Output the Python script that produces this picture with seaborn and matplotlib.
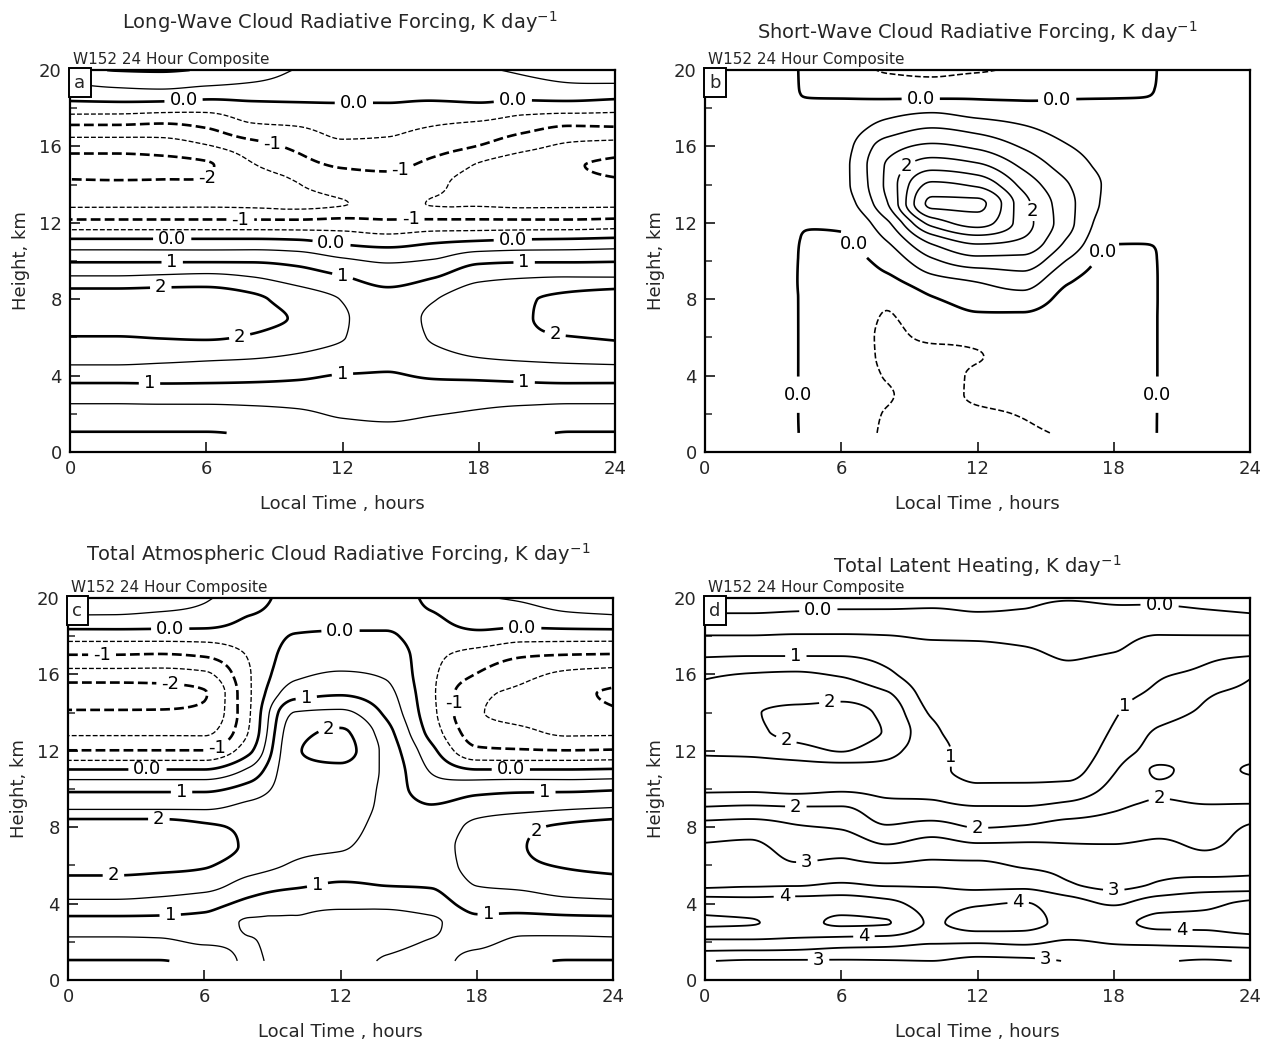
import numpy as np
import matplotlib
matplotlib.use("Agg")
import matplotlib.pyplot as plt
import seaborn as sns

# ---------------- data ----------------
local_time = [0, 2, 4, 6, 8, 10, 12, 14, 16, 18, 20, 22, 24]          # hours
height_km = [1, 2, 3, 4, 5, 6, 7, 8, 9, 10, 11, 12, 13, 14, 15, 16, 17, 18, 19, 20]

# each inner list: one local-time column, values at height_km (K/day)
lw_forcing = [
    [-0.02, 0.3, 0.7, 1.2, 1.7, 1.98, 2.35, 2.3, 1.65, 0.95, 0.15, -0.85, -1.6, -1.9, -2.2, -1.8, -1.1, -0.25, 0.35, 0.8],
    [-0.02, 0.3, 0.7, 1.2, 1.7, 1.98, 2.35, 2.3, 1.65, 0.95, 0.15, -0.85, -1.6, -1.92, -2.2, -1.8, -1.1, -0.25, 0.45, 1.02],
    [-0.02, 0.3, 0.72, 1.2, 1.65, 2.02, 2.35, 2.32, 1.7, 0.95, 0.15, -0.85, -1.6, -1.92, -2.15, -1.75, -1.15, -0.3, 0.5, 1.05],
    [-0.02, 0.3, 0.72, 1.18, 1.6, 2.05, 2.35, 2.3, 1.75, 0.95, 0.15, -0.85, -1.6, -1.95, -2.05, -1.55, -0.98, -0.35, 0.4, 0.95],
    [0.05, 0.35, 0.72, 1.15, 1.55, 1.95, 2.15, 2.1, 1.6, 0.95, 0.15, -0.85, -1.6, -1.8, -1.55, -1.2, -0.6, -0.2, 0.35, 0.75],
    [0.2, 0.42, 0.75, 1.08, 1.45, 1.75, 1.95, 1.8, 1.35, 0.85, 0.1, -0.85, -1.6, -1.52, -1.2, -0.9, -0.52, -0.15, 0.3, 0.48],
    [0.35, 0.55, 0.8, 0.98, 1.3, 1.52, 1.55, 1.48, 1.1, 0.6, -0.1, -0.8, -1.52, -1.3, -0.95, -0.6, -0.35, -0.1, 0.25, 0.35],
    [0.4, 0.58, 0.82, 0.97, 1.12, 1.25, 1.3, 1.2, 0.85, 0.45, -0.2, -0.9, -1.35, -1.2, -0.9, -0.6, -0.4, -0.1, 0.22, 0.3],
    [0.35, 0.52, 0.78, 1.05, 1.35, 1.55, 1.6, 1.47, 1.05, 0.55, -0.05, -0.85, -1.52, -1.4, -1.15, -0.8, -0.52, -0.2, 0.25, 0.3],
    [0.3, 0.45, 0.72, 1.1, 1.52, 1.8, 1.95, 1.85, 1.45, 0.9, 0.05, -0.85, -1.55, -1.7, -1.55, -1.02, -0.65, -0.15, 0.3, 0.45],
    [0.1, 0.35, 0.72, 1.15, 1.6, 1.9, 1.97, 1.95, 1.55, 0.95, 0.12, -0.85, -1.6, -1.8, -1.8, -1.35, -0.85, -0.3, 0.35, 0.55],
    [-0.02, 0.3, 0.7, 1.2, 1.65, 1.98, 2.25, 2.15, 1.6, 0.95, 0.15, -0.85, -1.6, -1.85, -1.95, -1.6, -1.05, -0.3, 0.4, 0.65],
    [-0.02, 0.3, 0.7, 1.2, 1.7, 2.05, 2.3, 2.3, 1.6, 0.97, 0.2, -0.8, -1.6, -1.9, -2.1, -1.7, -1.02, -0.35, 0.35, 0.8],
]

sw_forcing = [
    [0.0, 0.0, 0.0, 0.0, 0.0, 0.0, 0.0, 0.0, 0.0, 0.0, 0.0, 0.0, 0.0, 0.0, 0.0, 0.0, 0.0, 0.0, 0.0, 0.0],
    [0.0, 0.0, 0.0, 0.0, 0.0, 0.0, 0.0, 0.0, 0.0, 0.0, 0.0, 0.0, 0.0, 0.0, 0.0, 0.0, 0.0, 0.0, 0.0, 0.0],
    [0.0, 0.0, 0.0, 0.0, 0.0, 0.0, 0.0, 0.0, 0.0, 0.0, 0.0, 0.0, 0.0, 0.0, 0.0, 0.0, 0.0, 0.0, 0.0, 0.0],
    [-0.15, -0.2, -0.2, -0.2, -0.2, -0.2, -0.2, -0.2, -0.2, -0.15, -0.05, 0.05, 0.25, 0.35, 0.35, 0.3, 0.2, 0.1, -0.1, -0.2],
    [-0.55, -0.52, -0.47, -0.52, -0.55, -0.55, -0.52, -0.45, -0.1, 0.15, 0.48, 0.9, 1.45, 1.6, 1.55, 1.25, 0.7, 0.25, -0.25, -0.55],
    [-0.6, -0.6, -0.6, -0.6, -0.58, -0.45, -0.3, -0.05, 0.35, 0.9, 1.6, 2.7, 3.6, 3.1, 2.3, 1.6, 0.98, 0.35, -0.3, -0.6],
    [-0.6, -0.55, -0.45, -0.45, -0.52, -0.4, -0.1, 0.2, 0.55, 1.3, 2.1, 3.2, 3.6, 2.9, 2.1, 1.4, 0.8, 0.2, -0.2, -0.55],
    [-0.55, -0.48, -0.35, -0.3, -0.3, -0.25, -0.1, 0.3, 0.75, 1.3, 1.9, 2.25, 2.2, 1.85, 1.4, 0.95, 0.55, 0.15, -0.2, -0.4],
    [-0.45, -0.35, -0.3, -0.25, -0.25, -0.25, -0.25, -0.15, 0.05, 0.45, 0.9, 1.15, 1.15, 1.02, 0.75, 0.52, 0.3, 0.1, -0.1, -0.2],
    [-0.2, -0.2, -0.2, -0.2, -0.2, -0.2, -0.2, -0.2, -0.2, -0.15, 0.02, 0.15, 0.3, 0.35, 0.3, 0.25, 0.15, 0.05, -0.05, -0.15],
    [0.0, 0.0, 0.0, 0.0, 0.0, 0.0, 0.0, 0.0, 0.0, 0.0, 0.0, 0.0, 0.0, 0.0, 0.0, 0.0, 0.0, 0.0, 0.0, 0.0],
    [0.0, 0.0, 0.0, 0.0, 0.0, 0.0, 0.0, 0.0, 0.0, 0.0, 0.0, 0.0, 0.0, 0.0, 0.0, 0.0, 0.0, 0.0, 0.0, 0.0],
    [0.0, 0.0, 0.0, 0.0, 0.0, 0.0, 0.0, 0.0, 0.0, 0.0, 0.0, 0.0, 0.0, 0.0, 0.0, 0.0, 0.0, 0.0, 0.0, 0.0],
]

total_forcing = [
    [-0.02, 0.4, 0.8, 1.4, 1.8, 2.2, 2.45, 2.3, 1.45, 0.9, 0.02, -0.98, -1.6, -1.95, -2.25, -1.7, -1.02, -0.3, 0.45, 0.8],
    [-0.02, 0.4, 0.8, 1.4, 1.8, 2.2, 2.45, 2.3, 1.45, 0.9, 0.02, -0.98, -1.6, -1.95, -2.25, -1.7, -1.02, -0.3, 0.45, 0.75],
    [-0.02, 0.42, 0.8, 1.35, 1.75, 2.15, 2.45, 2.3, 1.45, 0.9, 0.02, -0.98, -1.6, -1.95, -2.2, -1.7, -1.05, -0.3, 0.4, 0.7],
    [0.2, 0.55, 0.8, 1.2, 1.7, 2.05, 2.3, 2.1, 1.45, 0.9, 0.02, -0.98, -1.6, -1.9, -2.03, -1.6, -0.95, -0.3, 0.35, 0.55],
    [0.55, 0.52, 0.45, 0.85, 1.3, 1.7, 1.9, 1.9, 1.65, 1.2, 0.6, -0.1, -0.45, -0.53, -0.55, -0.53, -0.45, -0.25, -0.02, 0.2],
    [0.3, 0.3, 0.45, 0.6, 1.1, 1.45, 1.6, 1.7, 1.75, 1.75, 1.85, 1.95, 1.85, 1.52, 0.8, 0.4, 0.2, 0.02, -0.1, -0.15],
    [0.2, 0.15, 0.3, 0.6, 0.95, 1.3, 1.55, 1.65, 1.7, 1.75, 1.9, 2.15, 2.05, 1.6, 0.95, 0.55, 0.3, 0.05, -0.1, -0.2],
    [0.55, 0.4, 0.35, 0.6, 1.02, 1.2, 1.3, 1.35, 1.4, 1.4, 1.4, 1.35, 1.2, 0.9, 0.65, 0.45, 0.3, 0.05, -0.1, -0.2],
    [0.6, 0.52, 0.42, 0.75, 1.05, 1.25, 1.3, 1.2, 1.05, 0.7, 0.45, 0.15, -0.2, -0.35, -0.4, -0.4, -0.35, -0.2, -0.05, 0.1],
    [0.35, 0.6, 0.85, 1.2, 1.52, 1.7, 1.75, 1.65, 1.25, 0.85, 0.02, -0.9, -1.25, -1.45, -1.4, -1.02, -0.7, -0.15, 0.25, 0.45],
    [0.1, 0.4, 0.75, 1.25, 1.6, 1.9, 1.97, 1.9, 1.35, 0.9, 0.02, -0.95, -1.4, -1.65, -1.6, -1.35, -0.95, -0.3, 0.3, 0.55],
    [-0.02, 0.38, 0.78, 1.35, 1.75, 2.05, 2.3, 2.1, 1.45, 0.9, 0.02, -0.98, -1.6, -1.85, -1.9, -1.6, -1.02, -0.3, 0.4, 0.7],
    [-0.02, 0.4, 0.8, 1.4, 1.8, 2.15, 2.4, 2.25, 1.52, 0.95, 0.05, -0.95, -1.6, -1.95, -2.05, -1.7, -1.05, -0.3, 0.45, 0.75],
]

latent_heating = [
    [3.02, 3.9, 4.55, 4.3, 3.4, 3.25, 3.05, 2.7, 2.05, 1.45, 1.4, 1.55, 1.8, 1.8, 1.6, 1.45, 0.95, 0.52, 0.05, -0.15],
    [2.95, 3.9, 4.52, 4.25, 3.45, 3.3, 3.1, 2.75, 2.1, 1.45, 1.35, 1.6, 1.9, 1.95, 1.7, 1.52, 0.98, 0.52, 0.05, -0.15],
    [2.95, 3.85, 4.4, 4.25, 3.45, 3.05, 2.8, 2.55, 2.05, 1.4, 1.3, 1.8, 2.15, 2.15, 1.7, 1.55, 0.98, 0.55, 0.08, -0.15],
    [2.95, 3.75, 4.55, 4.3, 3.55, 3.1, 2.85, 2.45, 2.05, 1.45, 1.3, 2.02, 2.25, 2.2, 1.8, 1.45, 0.98, 0.55, 0.1, -0.12],
    [2.97, 3.7, 4.52, 4.15, 3.45, 3.05, 2.55, 2.05, 1.7, 1.4, 1.4, 1.65, 1.95, 1.85, 1.55, 1.1, 0.85, 0.52, 0.1, -0.12],
    [3.0, 3.55, 3.95, 3.8, 3.45, 3.1, 2.75, 2.2, 1.65, 1.35, 1.15, 1.2, 1.1, 0.95, 0.8, 0.7, 0.65, 0.45, 0.1, -0.1],
    [2.85, 3.55, 4.2, 3.95, 3.35, 3.1, 2.6, 1.98, 1.55, 1.1, 0.85, 0.8, 0.75, 0.75, 0.72, 0.68, 0.6, 0.45, 0.05, -0.1],
    [2.88, 3.6, 4.15, 4.02, 3.35, 2.95, 2.6, 2.05, 1.55, 1.1, 0.85, 0.75, 0.72, 0.7, 0.68, 0.62, 0.55, 0.42, 0.05, -0.05],
    [3.02, 3.45, 3.9, 3.75, 3.05, 2.85, 2.55, 2.2, 1.7, 1.15, 0.85, 0.72, 0.68, 0.65, 0.62, 0.55, 0.48, 0.4, 0.12, -0.02],
    [3.1, 3.55, 3.9, 3.45, 2.85, 2.6, 2.52, 2.2, 1.95, 1.65, 1.45, 1.2, 1.05, 0.95, 0.85, 0.7, 0.52, 0.4, 0.1, -0.05],
    [3.05, 3.6, 4.1, 3.8, 3.05, 2.85, 2.6, 2.35, 2.1, 1.95, 2.05, 1.7, 1.55, 1.35, 1.1, 0.95, 0.75, 0.52, 0.15, -0.08],
    [2.95, 3.65, 4.1, 3.9, 3.2, 2.75, 2.45, 2.3, 2.05, 1.85, 1.85, 1.8, 1.65, 1.55, 1.45, 1.1, 0.9, 0.52, 0.1, -0.12],
    [3.05, 3.7, 4.3, 4.1, 3.2, 2.85, 2.7, 2.55, 2.1, 1.75, 2.05, 1.8, 1.75, 1.7, 1.6, 1.45, 0.98, 0.52, 0.05, -0.15],
]

panel_titles = [
    "Long-Wave Cloud Radiative Forcing, K day$^{-1}$",
    "Short-Wave Cloud Radiative Forcing, K day$^{-1}$",
    "Total Atmospheric Cloud Radiative Forcing, K day$^{-1}$",
    "Total Latent Heating, K day$^{-1}$",
]
panel_letters = ["a", "b", "c", "d"]
subtitle = "W152 24 Hour Composite"
x_ticks = [0, 6, 12, 18, 24]
y_ticks = [0, 4, 8, 12, 16, 20]

# contour label placement: (level, time, height)
labels_a = [(0, 5, 18.4), (0, 12.5, 18.4), (0, 19.5, 18.4), (-1, 9, 16.6), (-1, 14.5, 15.0),
            (-2, 6, 14.5), (-1, 7.5, 12.2), (-1, 15, 12.1), (0, 4.5, 11.2), (0, 11.5, 10.8),
            (0, 19.5, 11.1), (1, 4.5, 9.9), (1, 12, 9.2), (1, 20, 9.6), (2, 4, 8.5),
            (2, 7.5, 5.9), (2, 21.5, 7.0), (1, 3.5, 3.6), (1, 12, 4.0), (1, 20, 3.7)]
labels_b = [(0, 9.5, 18.6), (0, 15.5, 18.6), (0, 6.6, 10.9), (0, 17.5, 10.5), (0, 4, 3),
            (0, 20, 3), (2, 8.5, 15.4), (2, 14.3, 12.6)]
labels_c = [(0, 4.5, 18.3), (0, 12, 18.1), (0, 20, 18.3), (-1, 1.5, 17.0), (-1, 6.5, 12.3),
            (-1, 17.2, 14.5), (-2, 4.5, 15.4), (0, 3.5, 11.0), (0, 19.5, 11.0), (1, 5, 9.8),
            (1, 10.5, 14.7), (1, 21, 9.7), (2, 11.5, 13.0), (2, 2, 5.6), (2, 4, 8.4),
            (2, 21, 7.2), (1, 4.5, 3.4), (1, 11, 4.9), (1, 18.5, 3.6)]
labels_d = [(0, 5, 19.2), (0, 20, 19.2), (1, 4, 16.9), (1, 11, 11.7), (1, 18.5, 14.3),
            (2, 5.5, 14.5), (2, 3.5, 12.3), (2, 4, 9.0), (2, 12, 8.0), (2, 20, 9.6),
            (3, 4.5, 6.0), (3, 18, 4.7), (3, 5, 1.05), (3, 15, 1.1), (4, 3.5, 4.3),
            (4, 7, 2.3), (4, 13.8, 3.8), (4, 21, 2.8)]

# ---------------- style ----------------
sns.set_theme(style="ticks")
plt.rcParams["font.family"] = ["DejaVu Sans"]
plt.rcParams["axes.linewidth"] = 1.6


def pchip_axis(arr, x, xn, axis):
    """Monotone (shape preserving) cubic interpolation along one axis."""
    arr = np.moveaxis(np.asarray(arr, float), axis, 0)
    x = np.asarray(x, float)
    n = len(x)
    h = x[1] - x[0]
    delta = (arr[1:] - arr[:-1]) / h
    d = np.zeros_like(arr)
    prod = delta[:-1] * delta[1:]
    with np.errstate(divide="ignore", invalid="ignore"):
        hm = 2 * delta[:-1] * delta[1:] / (delta[:-1] + delta[1:])
    d[1:-1] = np.where(prod > 0, hm, 0.0)
    d[0] = delta[0]
    d[-1] = delta[-1]
    i = np.clip(np.floor((xn - x[0]) / h).astype(int), 0, n - 2)
    s = (xn - x[i]) / h
    s = s.reshape((-1,) + (1,) * (arr.ndim - 1))
    h00 = 2 * s ** 3 - 3 * s ** 2 + 1
    h10 = s ** 3 - 2 * s ** 2 + s
    h01 = -2 * s ** 3 + 3 * s ** 2
    h11 = s ** 3 - s ** 2
    out = h00 * arr[i] + h10 * h * d[i] + h01 * arr[i + 1] + h11 * h * d[i + 1]
    return np.moveaxis(out, 0, axis)


def fine_field(columns):
    grid = np.asarray(columns, float).T          # (height, time)
    tn = np.linspace(local_time[0], local_time[-1], 241)
    zn = np.linspace(height_km[0], height_km[-1], 381)
    g = pchip_axis(grid, local_time, tn, axis=1)
    g = pchip_axis(g, height_km, zn, axis=0)
    T, Z = np.meshgrid(tn, zn)
    return T, Z, g


def fmt(v):
    return "0.0" if abs(v) < 0.01 else f"{v:.0f}"


W, H = 1265, 1040
fig = plt.figure(figsize=(W / 100, H / 100), dpi=100)

axes_px = [(70, 70), (705, 70), (68, 598), (705, 598)]   # left, top in pixels
ax_w, ax_h = 545, 382
title_px = [(340, 22), (977, 32), (338, 554), (977, 566)]

panels = [
    dict(data=lw_forcing, levels=[-2.5, -2, -1.5, -1, -0.5, 0, 0.5, 1, 1.5, 2, 2.5],
         style="ac", labels=labels_a),
    dict(data=sw_forcing, levels=[-0.5, 0, 0.5, 1, 1.5, 2, 2.5, 3, 3.5],
         style="b", labels=labels_b),
    dict(data=total_forcing, levels=[-2.5, -2, -1.5, -1, -0.5, 0, 0.5, 1, 1.5, 2, 2.5],
         style="ac", labels=labels_c),
    dict(data=latent_heating, levels=[0, 0.5, 1, 1.5, 2, 2.5, 3, 3.5, 4, 4.5],
         style="d", labels=labels_d),
]

for k, p in enumerate(panels):
    lpx, tpx = axes_px[k]
    ax = fig.add_axes([lpx / W, 1 - (tpx + ax_h) / H, ax_w / W, ax_h / H])
    T, Z, F = fine_field(p["data"])
    for v in p["levels"]:
        integer = abs(v - round(v)) < 1e-9
        if p["style"] == "ac":
            lw = 1.9 if integer else 0.95
        elif p["style"] == "b":
            lw = 1.9 if abs(v) < 1e-9 else 1.15
        else:
            lw = 1.3
        ls = "dashed" if v < -0.01 else "solid"
        lev = -0.001 if abs(v) < 1e-9 else v
        if not (F.min() < lev < F.max()):
            continue
        cs = ax.contour(T, Z, F, levels=[lev], colors="black", linewidths=lw, linestyles=ls)
        pts = [(t, z) for (lv, t, z) in p["labels"] if abs(lv - v) < 1e-9]
        if pts:
            texts = ax.clabel(cs, manual=pts, inline=True, inline_spacing=5, fmt=fmt,
                              fontsize=13)
            for tx_ in texts:
                tx_.set_rotation(0)

    ax.set_xlim(0, 24)
    ax.set_ylim(0, 20)
    ax.set_xticks(x_ticks)
    ax.set_yticks(y_ticks)
    ax.set_yticks([2, 6, 10, 14, 18], minor=True)
    ax.tick_params(axis="both", which="major", direction="in", length=7, width=1.3,
                   labelsize=13, top=False, right=False, pad=6)
    ax.tick_params(axis="y", which="minor", direction="in", length=5, width=1.1, right=False)
    for sp in ax.spines.values():
        sp.set_visible(True)
        sp.set_linewidth(1.6)
        sp.set_color("black")
    ax.set_xlabel("Local Time , hours", fontsize=13, labelpad=12)
    ax.set_ylabel("Height, km", fontsize=13, labelpad=6)
    ax.text(0.008, 0.99, panel_letters[k], transform=ax.transAxes, ha="left", va="top",
            fontsize=13, bbox=dict(boxstyle="square,pad=0.3", fc="white", ec="black", lw=1.4),
            zorder=5)
    ax.text(0.005, 1.008, subtitle, transform=ax.transAxes, ha="left", va="bottom", fontsize=11)
    tx, ty = title_px[k]
    fig.text(tx / W, 1 - ty / H, panel_titles[k], ha="center", va="center", fontsize=14)

fig.savefig("out.png", dpi=100, facecolor="white")
